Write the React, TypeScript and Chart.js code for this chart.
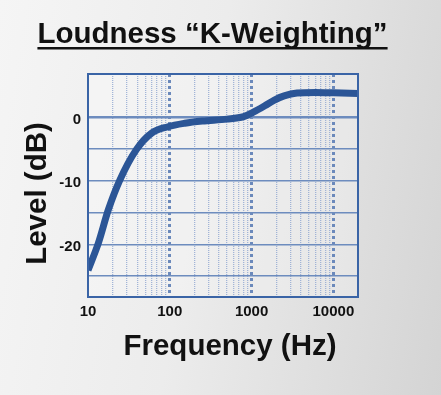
import React, { useEffect, useRef } from "react";
import { Chart, registerables } from "chart.js";

Chart.register(...registerables);

// ---- data ----
const TITLE = "Loudness “K-Weighting”";
const X_TITLE = "Frequency (Hz)";
const Y_TITLE = "Level (dB)";

const FREQS = [10, 13.4, 17.7, 24.5, 39, 60, 95, 152, 250, 500, 800, 1050, 1450, 1900, 2500, 3600, 6000, 10000, 20000];
const LEVELS = [-24.1, -19.8, -14.6, -9.9, -5.1, -2.5, -1.5, -0.95, -0.6, -0.3, 0.1, 0.8, 1.8, 2.7, 3.35, 3.8, 3.9, 3.85, 3.75];

const X_TICKS = [
  10, 20, 30, 40, 50, 60, 70, 80, 90,
  100, 200, 300, 400, 500, 600, 700, 800, 900,
  1000, 2000, 3000, 4000, 5000, 6000, 7000, 8000, 9000,
  10000, 20000,
];
const X_DECADES = [100, 1000, 10000];
const X_LABELS = [10, 100, 1000, 10000];
const X_MIN = 10;
const X_MAX = 20000;

const Y_TICKS = [-25, -20, -15, -10, -5, 0];
const Y_LABELS = [-20, -10, 0];
const Y_MIN = -28.3;
const Y_MAX = 6.8;

const FONT = '"Liberation Sans", Arial, sans-serif';

const textPlugin = {
  id: "texts",
  beforeDatasetsDraw(chart: any) {
    const { ctx, chartArea } = chart;
    ctx.save();
    ctx.fillStyle = "rgba(255,255,255,0.25)";
    ctx.fillRect(chartArea.left, chartArea.top, chartArea.right - chartArea.left, chartArea.bottom - chartArea.top);
    ctx.restore();
  },
  afterDraw(chart: any) {
    const { ctx, chartArea } = chart;
    ctx.save();
    // frame
    ctx.strokeStyle = "#3a64a6";
    ctx.lineWidth = 2;
    ctx.strokeRect(chartArea.left, chartArea.top, chartArea.right - chartArea.left, chartArea.bottom - chartArea.top);

    ctx.fillStyle = "#111";
    ctx.font = `bold 29.5px ${FONT}`;
    ctx.textBaseline = "alphabetic";
    ctx.textAlign = "center";
    // title
    const tx = 212.5;
    ctx.fillText(TITLE, tx, 43);
    const w = ctx.measureText(TITLE).width;
    ctx.fillRect(tx - w / 2, 47, w, 2.5);
    // x title
    ctx.fillText(X_TITLE, 230, 355);
    // y title
    ctx.translate(46, 193.5);
    ctx.rotate(-Math.PI / 2);
    ctx.fillText(Y_TITLE, 0, 0);
    ctx.restore();
  },
};

export default function App() {
  const ref = useRef<HTMLCanvasElement>(null);

  useEffect(() => {
    if (!ref.current) return;
    const chart = new Chart(ref.current, {
      type: "line",
      data: {
        datasets: [
          {
            data: FREQS.map((f, i) => ({ x: f, y: LEVELS[i] })),
            borderColor: "#2b5596",
            borderWidth: 7,
            pointRadius: 0,
            cubicInterpolationMode: "monotone",
            borderCapStyle: "butt",
            fill: false,
          },
        ],
      },
      options: {
        responsive: false,
        animation: false,
        events: [],
        layout: { padding: { left: 0, right: 83, top: 74, bottom: 0 } },
        plugins: { legend: { display: false }, tooltip: { enabled: false }, title: { display: false } },
        scales: {
          x: {
            type: "logarithmic",
            min: X_MIN,
            max: X_MAX,
            afterBuildTicks: (scale: any) => {
              scale.ticks = X_TICKS.map((v) => ({ value: v }));
            },
            afterFit: (scale: any) => {
              scale.height = 98;
            },
            ticks: {
              autoSkip: false,
              maxRotation: 0,
              minRotation: 0,
              padding: 6,
              color: "#111",
              font: { family: FONT, size: 15, weight: "bold" },
              callback: (v: any) => (X_LABELS.includes(Number(v)) ? String(v) : ""),
            },
            grid: {
              drawTicks: false,
              color: (c: any) => {
                const v = c.tick?.value;
                if (v === X_MIN || v === X_MAX) return "rgba(0,0,0,0)";
                return X_DECADES.includes(v) ? "#3a62a5" : "rgba(110,140,195,0.85)";
              },
              lineWidth: (c: any) => (X_DECADES.includes(c.tick?.value) ? 3 : 1.3),
            },
            border: {
              display: false,
              dash: (c: any) => {
                const v = c.tick?.value;
                if (v === undefined) return [];
                return X_DECADES.includes(v) ? [3, 3] : [1, 1];
              },
            },
          },
          y: {
            type: "linear",
            min: Y_MIN,
            max: Y_MAX,
            afterBuildTicks: (scale: any) => {
              scale.ticks = Y_TICKS.map((v) => ({ value: v }));
            },
            afterFit: (scale: any) => {
              scale.width = 88;
            },
            ticks: {
              padding: 7,
              labelOffset: 2.5,
              color: "#111",
              font: { family: FONT, size: 15, weight: "bold" },
              callback: (v: any) => (Y_LABELS.includes(Number(v)) ? String(v) : ""),
            },
            grid: {
              drawTicks: false,
              color: "#3d66a8",
              lineWidth: (c: any) => (c.tick?.value === 0 ? 2.5 : 1.5),
            },
            border: { display: false },
          },
        },
      },
      plugins: [textPlugin],
    } as any);
    return () => chart.destroy();
  }, []);

  return (
    <div
      style={{
        position: "fixed",
        left: 0,
        top: 0,
        width: 441,
        height: 395,
        background: "linear-gradient(100deg, #f5f5f5 0%, #ececec 45%, #d4d4d4 100%)",
      }}
    >
      <canvas ref={ref} width={441} height={395} style={{ display: "block" }} />
    </div>
  );
}
